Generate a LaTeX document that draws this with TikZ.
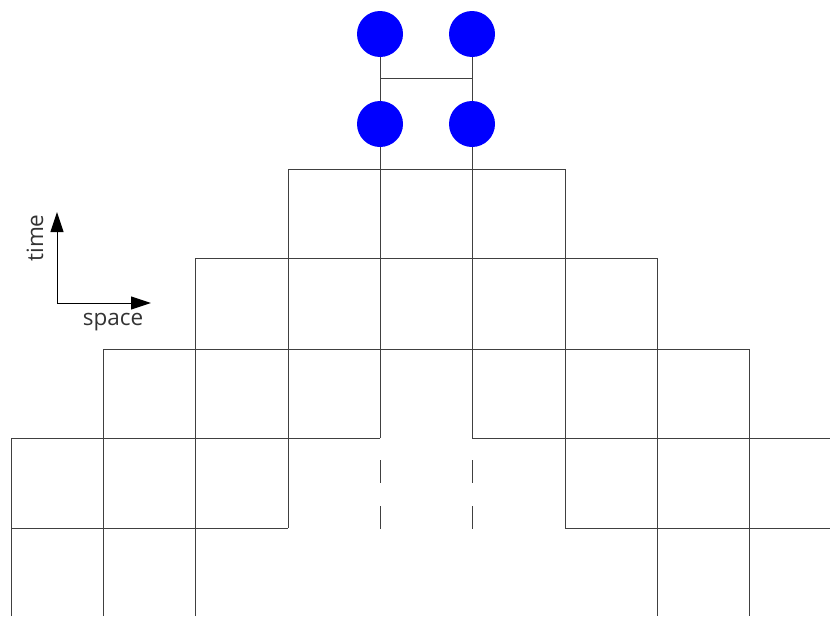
\documentclass[tikz,border=0pt]{standalone}
\usepackage{fontspec}
\setmainfont{Open Sans}
\usepackage{tikz}
\usetikzlibrary{arrows.meta,positioning}

\begin{document}
\begin{tikzpicture}
 [x=1pt,y=-1pt,
  particle/.style={node distance=92pt, circle,fill=blue,inner sep=0pt,minimum size=46pt},
  grid line/.style={line width=1pt,draw=black!75},
  axis/.style={line width=1pt,-{Triangle[length=20pt,width=13pt]}},
  label text/.style={font=\fontsize{22.5}{26}\selectfont,text=black!80}]

\useasboundingbox (0,0) rectangle (830,616);

% the pyramid of cells
\draw[grid line] (288,528) -- (288,169) -- (565,169) -- (565,528);
\draw[grid line] (195,616) -- (195,258) -- (657,258) -- (657,616);
\draw[grid line] (103,616) -- (103,349) -- (749,349) -- (749,616);
\draw[grid line] (11,616) -- (11,438) -- (380,438);
\draw[grid line] (472,438) -- (830,438);
\draw[grid line] (11,528) -- (288,528);
\draw[grid line] (565,528) -- (830,528);

% the two particles
\node[particle] (a1) at (380,34) {};
\node[particle] (b1) [right of=a1] {};
\node[particle] (a2) at (380,124) {};
\node[particle] (b2) [right of=a2] {};

\coordinate (a3) at (380,438);
\coordinate (b3) at (472,438);
\coordinate (ab) at (380,78);
\coordinate (ba) at (472,78);

\path[grid line]
  (a1) edge (a2)
  (b1) edge (b2)
  (a2) edge (a3)
  (b2) edge (b3)
  (ab) edge (ba);

\draw[grid line,dash pattern=on 23pt off 23pt] (380,460) -- (380,529);
\draw[grid line,dash pattern=on 23pt off 23pt] (472,460) -- (472,529);

% axes
\coordinate (o) at (57,303);
\coordinate (t) at (57,212);
\coordinate (s) at (151,303);
\draw[axis] (o) -- (t);
\draw[axis] (o) -- (s);
\node[label text,rotate=90] (time) at (35,238) {time};
\node[label text] (space) at (113,322) {space};

\end{tikzpicture}
\end{document}
